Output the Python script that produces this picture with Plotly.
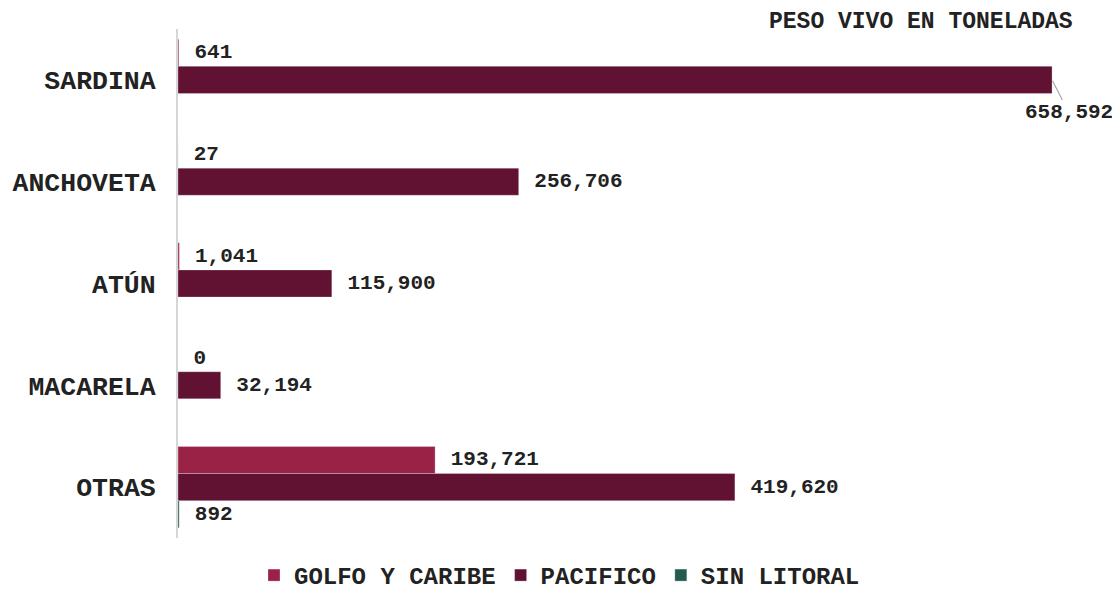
import plotly.graph_objects as go

categorias = ["SARDINA", "ANCHOVETA", "ATÚN", "MACARELA", "OTRAS"]
golfo_caribe = [641, 27, 1041, 0, 193721]
pacifico = [658592, 256706, 115900, 32194, 419620]
sin_litoral = [None, None, None, None, 892]

series = [
    ("GOLFO Y CARIBE", golfo_caribe, "#9B2247"),
    ("PACIFICO", pacifico, "#611232"),
    ("SIN LITORAL", sin_litoral, "#235B4E"),
]

FONT = "Liberation Mono, Courier New, monospace"
LBL = 21

fig = go.Figure()
for nombre, valores, color in series:
    textos = []
    for c, v in zip(categorias, valores):
        if v is None:
            textos.append("")
        elif nombre == "PACIFICO" and v == max(pacifico):
            textos.append("")
        else:
            textos.append("\u00a0" + f"{v:,}")
    fig.add_trace(go.Bar(
        y=categorias, x=valores, name=nombre, orientation="h",
        marker=dict(color=color, line=dict(color="rgba(255,255,255,0.35)", width=0.8)),
        text=textos, textposition="outside", cliponaxis=False,
        textfont=dict(family=FONT, size=LBL, color="#222222", weight="bold"),
        hoverinfo="skip",
    ))

# label with leader line for the largest bar
imax = pacifico.index(max(pacifico))
fig.add_annotation(
    x=pacifico[imax], y=categorias[imax], xref="x", yref="y",
    text=f"{pacifico[imax]:,}", showarrow=True, arrowhead=0, arrowwidth=1.2,
    arrowcolor="#A6A6A6", ax=17, ay=33, standoff=1,
    font=dict(family=FONT, size=LBL, color="#222222", weight="bold"),
)

fig.add_annotation(
    text="PESO VIVO EN TONELADAS", xref="paper", yref="paper",
    x=0.9655, y=1.0138, xanchor="right", yanchor="middle", showarrow=False,
    font=dict(family=FONT, size=23, color="#222222", weight="bold"),
)

fig.update_layout(
    template="none",
    width=1112, height=590,
    margin=dict(l=170, r=13, t=21, b=60),
    barmode="group", bargap=0.2, bargroupgap=0,
    plot_bgcolor="white", paper_bgcolor="white",
    showlegend=True,
    legend=dict(orientation="h", xref="container", yref="container",
                x=0.2212, xanchor="left", y=0.0, yanchor="bottom",
                font=dict(family=FONT, size=24, color="#222222", weight="bold"),
                traceorder="normal"),
    xaxis=dict(range=[0, 700000], showgrid=False, zeroline=False,
               showticklabels=False, showline=False, ticks="", automargin=False),
    yaxis=dict(autorange="reversed", showgrid=False, zeroline=False,
               showline=True, linecolor="#D6D6D6", linewidth=2,
               ticks="", ticklabelstandoff=15, automargin=False,
               tickfont=dict(family=FONT, size=26.5, color="#222222", weight="bold")),
)

fig.write_html("out.html")
